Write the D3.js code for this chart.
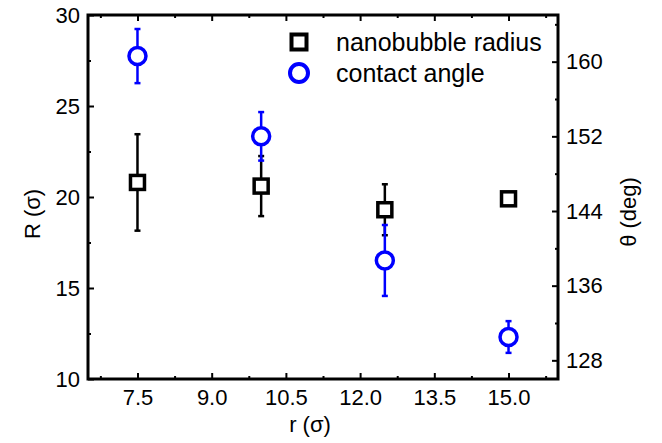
<!DOCTYPE html>
<html>
<head>
<meta charset="utf-8">
<script src="https://cdn.jsdelivr.net/npm/d3@7"></script>
<style>
  body { margin: 0; background: #fff; }
  svg text { font-family: 'Liberation Sans', Arial, sans-serif; }
</style>
</head>
<body>
<div id="chart"></div>
<script>
// Nanobubble radius and contact angle vs r

const rValues = [7.5, 10.0, 12.5, 15.0];
const radius = [20.8, 20.6, 19.3, 19.9];
const radiusErr = [2.65, 1.65, 1.4, 0.2];
const angle = [160.6, 152.0, 138.7, 130.5];
const angleErr = [2.9, 2.6, 3.8, 1.7];

const xTicks = [7.5, 9.0, 10.5, 12.0, 13.5, 15.0];
const xMinor = [6.75, 8.25, 9.75, 11.25, 12.75, 14.25, 15.75];
const yTicks = [10, 15, 20, 25, 30];
const yMinor = [12.5, 17.5, 22.5, 27.5];
const thTicks = [128, 136, 144, 152, 160];
const thMinor = [132, 140, 148, 156, 164];

const legendLabels = ['nanobubble radius', 'contact angle'];

const width = 662;
const height = 443;
const margin = { top: 15, right: 104, bottom: 64, left: 88 };
const blue = '#0000ff';

const svg = d3
  .select('#chart')
  .append('svg')
  .attr('width', width)
  .attr('height', height);

const x = d3.scaleLinear().domain([6.5, 16]).range([margin.left, width - margin.right]);
const y = d3.scaleLinear().domain([10, 30]).range([height - margin.bottom, margin.top]);
const yTh = d3.scaleLinear().domain([126, 165]).range([height - margin.bottom, margin.top]);

// Axes (ticks inward)
function drawAxis(axis, transform, cls) {
  const g = svg.append('g').attr('transform', transform).attr('class', cls).call(axis);
  g.select('.domain').remove();
  g.selectAll('line').attr('stroke', 'black').attr('stroke-width', 2);
  g.selectAll('text').attr('fill', 'black').style('font-size', '22px');
  return g;
}

const bottomY = height - margin.bottom;
drawAxis(d3.axisBottom(x).tickValues(xTicks).tickFormat(d3.format('.1f')).tickSize(-6).tickPadding(10), `translate(0,${bottomY})`);
drawAxis(d3.axisBottom(x).tickValues(xMinor).tickFormat('').tickSize(-3), `translate(0,${bottomY})`);
drawAxis(d3.axisTop(x).tickValues(xTicks).tickFormat('').tickSize(-6), `translate(0,${margin.top})`);
drawAxis(d3.axisTop(x).tickValues(xMinor).tickFormat('').tickSize(-3), `translate(0,${margin.top})`);

drawAxis(d3.axisLeft(y).tickValues(yTicks).tickSize(-6).tickPadding(8), `translate(${margin.left},0)`);
drawAxis(d3.axisLeft(y).tickValues(yMinor).tickFormat('').tickSize(-3), `translate(${margin.left},0)`);

const rightX = width - margin.right;
drawAxis(d3.axisRight(yTh).tickValues(thTicks).tickSize(-6).tickPadding(8), `translate(${rightX},0)`);
drawAxis(d3.axisRight(yTh).tickValues(thMinor).tickFormat('').tickSize(-3), `translate(${rightX},0)`);

// Frame
svg
  .append('rect')
  .attr('x', margin.left)
  .attr('y', margin.top)
  .attr('width', rightX - margin.left)
  .attr('height', bottomY - margin.top)
  .attr('fill', 'none')
  .attr('stroke', 'black')
  .attr('stroke-width', 3);

// Axis titles
svg
  .append('text')
  .attr('x', 310)
  .attr('y', 432)
  .attr('text-anchor', 'middle')
  .style('font-size', '22px')
  .text('r (\u03c3)');

svg
  .append('text')
  .attr('transform', 'translate(40,214) rotate(-90)')
  .attr('text-anchor', 'middle')
  .style('font-size', '22px')
  .text('R (\u03c3)');

svg
  .append('text')
  .attr('transform', 'translate(636,212) rotate(-90)')
  .attr('text-anchor', 'middle')
  .style('font-size', '22px')
  .text('\u03b8 (deg)');

// Error bars
function errorBars(vals, errs, scale, color) {
  const g = svg.append('g').attr('stroke', color).attr('stroke-width', 2.5);
  rValues.forEach((r, i) => {
    const cx = x(r);
    const top = scale(vals[i] + errs[i]);
    const bot = scale(vals[i] - errs[i]);
    g.append('line').attr('x1', cx).attr('x2', cx).attr('y1', top).attr('y2', bot);
    g.append('line').attr('x1', cx - 3).attr('x2', cx + 3).attr('y1', top).attr('y2', top);
    g.append('line').attr('x1', cx - 3).attr('x2', cx + 3).attr('y1', bot).attr('y2', bot);
  });
}

// Radius (squares)
errorBars(radius, radiusErr, y, 'black');
svg
  .selectAll('.sq')
  .data(radius)
  .enter()
  .append('rect')
  .attr('x', (d, i) => x(rValues[i]) - 7)
  .attr('y', (d) => y(d) - 7)
  .attr('width', 14)
  .attr('height', 14)
  .attr('fill', 'white')
  .attr('stroke', 'black')
  .attr('stroke-width', 3.5);

// Contact angle (circles)
errorBars(angle, angleErr, yTh, blue);
svg
  .selectAll('.ci')
  .data(angle)
  .enter()
  .append('circle')
  .attr('cx', (d, i) => x(rValues[i]))
  .attr('cy', (d) => yTh(d))
  .attr('r', 8.5)
  .attr('fill', 'white')
  .attr('stroke', blue)
  .attr('stroke-width', 3.5);

// Legend
const legend = svg.append('g').attr('transform', 'translate(299,42)');
legend
  .append('rect')
  .attr('x', -7.5)
  .attr('y', -7.5)
  .attr('width', 15)
  .attr('height', 15)
  .attr('fill', 'white')
  .attr('stroke', 'black')
  .attr('stroke-width', 4);
legend
  .append('circle')
  .attr('cx', 0)
  .attr('cy', 31)
  .attr('r', 9)
  .attr('fill', 'white')
  .attr('stroke', blue)
  .attr('stroke-width', 4);
legend
  .selectAll('text')
  .data(legendLabels)
  .enter()
  .append('text')
  .attr('x', 37)
  .attr('y', (d, i) => i * 31 + 8.5)
  .style('font-size', '25px')
  .text((d) => d);
</script>
</body>
</html>
